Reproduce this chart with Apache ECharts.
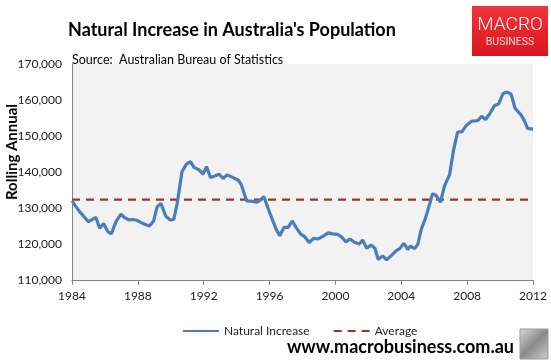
<!DOCTYPE html>
<html>
<head>
<meta charset="utf-8">
<script src="https://cdn.jsdelivr.net/npm/echarts@6/dist/echarts.min.js"></script>
<style>
html,body{margin:0;padding:0;background:#fff;}
#c{width:551px;height:362px;}
</style>
</head>
<body>
<div id="c"></div>
<script>
// Data (rolling annual natural increase)
const years = [
  1984.00,1984.24,1984.46,1984.71,1984.99,1985.22,1985.45,1985.68,1985.92,1986.18,
  1986.39,1986.67,1986.97,1987.20,1987.44,1987.68,1987.93,1988.17,1988.41,1988.70,
  1988.96,1989.17,1989.40,1989.70,1989.95,1990.18,1990.39,1990.68,1990.95,1991.19,
  1991.41,1991.72,1991.96,1992.17,1992.41,1992.67,1992.93,1993.18,1993.42,1993.75,
  1994.09,1994.29,1994.60,1994.90,1995.21,1995.45,1995.65,1995.91,1996.20,1996.41,
  1996.62,1996.87,1997.13,1997.37,1997.64,1997.88,1998.14,1998.40,1998.69,1998.95,
  1999.26,1999.56,1999.83,2000.13,2000.38,2000.64,2000.88,2001.18,2001.45,2001.65,
  2001.90,2002.16,2002.40,2002.60,2002.87,2003.11,2003.42,2003.68,2003.92,2004.16,
  2004.39,2004.56,2004.81,2005.01,2005.20,2005.47,2005.68,2005.90,2006.11,2006.38,
  2006.63,2006.93,2007.17,2007.42,2007.69,2007.96,2008.27,2008.48,2008.66,2008.88,
  2009.12,2009.36,2009.67,2009.91,2010.18,2010.43,2010.67,2010.91,2011.28,2011.46,
  2011.67,2012.00
];
const naturalIncrease = [
  132000,130400,129000,127700,126200,126800,127400,124400,125700,123400,
  122800,126200,128300,127300,126700,126800,126600,126000,125500,125000,
  126400,130300,131300,127700,126700,126800,131300,140100,142200,142900,
  141300,140600,139400,141500,138500,138900,139400,138200,139200,138500,
  137800,136400,132000,131900,131600,132200,133200,129900,126400,124000,
  122300,124600,124600,126400,124400,122800,122000,120400,121600,121400,
  122200,123100,122800,122700,121900,120600,121400,120400,120000,121100,
  118800,119700,118800,115700,116700,115600,116900,118100,118800,120200,
  118500,119400,118700,120000,123900,127200,130400,134000,133500,131600,
  136200,139200,146000,151100,151200,153000,154100,154200,154300,155500,
  154600,156100,158500,158900,161800,162200,161600,157700,155800,154400,
  152100,151900
];
const averageValue = [132300];
const averageSpan = [1984, 2012];
const xTickLabels = [1984, 1988, 1992, 1996, 2000, 2004, 2008, 2012];
const yRange = [110000, 170000];

const chart = echarts.init(document.getElementById('c'), null, {renderer: 'canvas'});
const FONT = 'Lato, "Open Sans", sans-serif';

chart.setOption({
  animation: false,
  backgroundColor: '#ffffff',
  textStyle: {fontFamily: FONT},
  title: [
    {
      text: "Natural Increase in Australia's Population",
      left: 63, top: 16,
      textStyle: {fontFamily: FONT, fontSize: 18, fontWeight: 'bold', color: '#000'}
    },
    {
      text: 'Source:  Australian Bureau of Statistics',
      left: 67, top: 48,
      textStyle: {fontFamily: FONT, fontSize: 12.5, fontWeight: 'normal', color: '#000'}
    }
  ],
  grid: {
    left: 72, right: 18, top: 64, bottom: 82,
    show: true, backgroundColor: '#f2f2f2', borderWidth: 0
  },
  legend: {
    left: 177, top: 320,
    itemWidth: 36, itemHeight: 10, itemGap: 23,
    textStyle: {fontFamily: FONT, fontSize: 12, color: '#222'},
    itemStyle: {opacity: 0},
    data: ['Natural Increase', 'Average']
  },
  xAxis: {
    type: 'value',
    min: xTickLabels[0], max: xTickLabels[xTickLabels.length - 1], interval: 4,
    axisLine: {show: true, lineStyle: {color: '#868686', width: 1}},
    axisTick: {show: true, length: 5, lineStyle: {color: '#868686'}},
    splitLine: {show: false},
    axisLabel: {color: '#222', fontSize: 12, fontFamily: FONT, margin: 10,
      formatter: v => String(v)}
  },
  yAxis: {
    type: 'value',
    min: yRange[0], max: yRange[1], interval: 10000,
    axisLine: {show: true, lineStyle: {color: '#868686', width: 1}},
    axisTick: {show: false},
    splitLine: {show: false},
    axisLabel: {color: '#222', fontSize: 12, fontFamily: FONT, margin: 10,
      formatter: v => v.toLocaleString('en-US')}
  },
  series: [
    {
      name: 'Natural Increase',
      type: 'line',
      symbol: 'none',
      lineStyle: {color: '#4a7ebb', width: 3.2},
      itemStyle: {color: '#4a7ebb'},
      data: years.map((y, i) => [y, naturalIncrease[i]]),
      z: 3
    },
    {
      name: 'Average',
      type: 'line',
      symbol: 'none',
      lineStyle: {color: '#993333', width: 2.2, type: [8, 6]},
      itemStyle: {color: '#993333'},
      data: averageSpan.map(y => [y, averageValue[0]]),
      z: 2
    }
  ],
  graphic: [
    {
      type: 'text', x: 12, y: 152, rotation: Math.PI / 2,
      style: {text: 'Rolling Annual', fontFamily: FONT, fontSize: 15, fontWeight: 'bold',
        fill: '#000', align: 'center', verticalAlign: 'middle'}
    },
    {
      type: 'rect', shape: {x: 472, y: 6, width: 76, height: 50},
      style: {fill: new echarts.graphic.LinearGradient(0, 0, 0, 1, [
        {offset: 0, color: '#f0353a'}, {offset: 1, color: '#d8181e'}])}
    },
    {
      type: 'text', x: 510, y: 25,
      style: {text: 'MACRO', fontFamily: 'Roboto, sans-serif', fontSize: 19, fontWeight: 300,
        fill: '#ffffff', align: 'center', verticalAlign: 'middle'}
    },
    {
      type: 'text', x: 510, y: 42,
      style: {text: 'BUSINESS', fontFamily: 'Roboto, sans-serif', fontSize: 10.5, fontWeight: 400,
        fill: '#ffd6d6', align: 'center', verticalAlign: 'middle'}
    },
    {
      type: 'text', x: 514, y: 347,
      style: {text: 'www.macrobusiness.com.au', fontFamily: FONT, fontSize: 18, fontWeight: 'bold',
        fill: '#000', align: 'right', verticalAlign: 'middle'}
    },
    {
      type: 'rect', shape: {x: 520, y: 329, width: 28, height: 30},
      style: {fill: new echarts.graphic.LinearGradient(0, 0, 1, 1, [
        {offset: 0, color: '#d8d8d8'}, {offset: 0.5, color: '#8a8a8a'}, {offset: 1, color: '#cfcfcf'}]),
        stroke: '#999', lineWidth: 1}
    }
  ]
});
</script>
</body>
</html>
